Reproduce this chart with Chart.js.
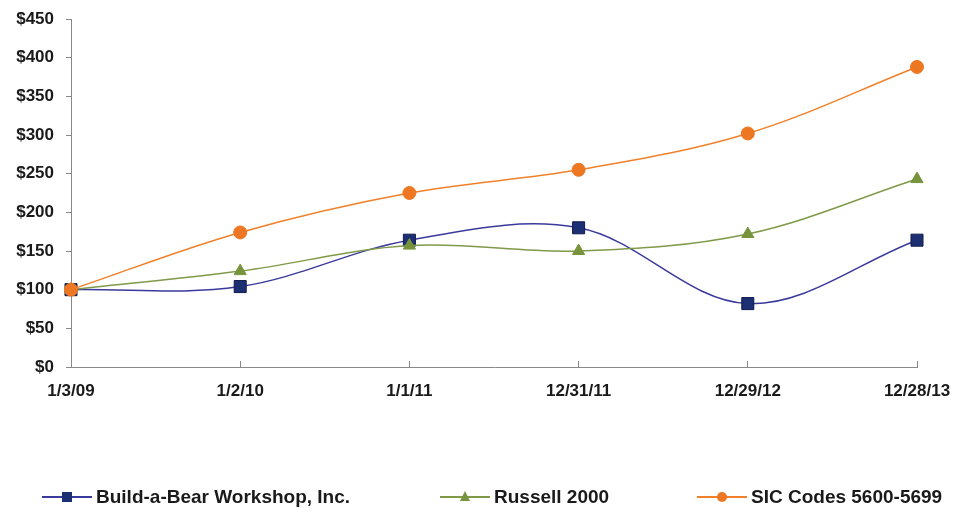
<!DOCTYPE html>
<html><head><meta charset="utf-8">
<script src="https://cdn.jsdelivr.net/npm/chart.js@4/dist/chart.umd.min.js"></script>
<style>html,body{margin:0;padding:0;background:#fff}#wrap{width:958px;height:514px}</style>
</head><body><div id="wrap"><canvas id="c"></canvas></div>
<script>
const categories = ["1/3/09","1/2/10","1/1/11","12/31/11","12/29/12","12/28/13"];
const buildABear = [100, 104, 164, 180, 82, 164];
const russell2000 = [100, 124, 157, 150, 172, 243];
const sicCodes = [100, 174, 225, 255, 302, 388];
const yTicks = [0,50,100,150,200,250,300,350,400,450];

const seriesNames = ["Build-a-Bear Workshop, Inc.","Russell 2000","SIC Codes 5600-5699"];
const lineColors = ["#3a3a9c","#7f9a48","#f0812a"];
const markerColors = ["#1c2f72","#77933c","#ed7722"];
const markerStyles = ["rect","triangle","circle"];
const dataSets = [buildABear, russell2000, sicCodes];

const AXIS_FONT = { family: 'Liberation Sans, Arial, sans-serif', size: 17, weight: 'bold' };
const LEGEND_X = [42, 440, 697];

const legendPlugin = {
  id: 'customLegend',
  afterDraw(chart) {
    const g = chart.ctx;
    const y = 497;
    g.save();
    g.font = 'bold 19px "Liberation Sans", Arial, sans-serif';
    chart.data.datasets.forEach((ds, i) => {
      const x0 = LEGEND_X[i];
      g.strokeStyle = lineColors[i]; g.lineWidth = 2;
      g.beginPath(); g.moveTo(x0, y); g.lineTo(x0 + 50, y); g.stroke();
      g.fillStyle = markerColors[i];
      const cx = x0 + 25;
      if (i === 0) { g.fillRect(cx - 5, y - 5, 10, 10); }
      else if (i === 1) { g.beginPath(); g.moveTo(cx, y - 6); g.lineTo(cx + 5, y + 4); g.lineTo(cx - 5, y + 4); g.closePath(); g.fill(); }
      else { g.beginPath(); g.arc(cx, y, 5, 0, Math.PI * 2); g.fill(); }
      g.fillStyle = '#1a1a1a';
      g.textBaseline = 'middle';
      g.textAlign = 'left';
      g.fillText(ds.label, x0 + 54, y + 1);
    });
    g.restore();
  }
};

new Chart(document.getElementById('c'), {
  type: 'line',
  data: {
    labels: categories,
    datasets: dataSets.map((d,i)=>({
      label: seriesNames[i],
      data: d,
      borderColor: lineColors[i],
      backgroundColor: markerColors[i],
      pointBackgroundColor: markerColors[i],
      pointBorderColor: i===0 ? '#101a4a' : markerColors[i],
      pointBorderWidth: 1,
      pointStyle: markerStyles[i],
      pointRadius: i===0 ? 8.5 : (i===1 ? 7 : 6.5),
      borderWidth: 1.5,
      tension: 0.35,
      fill: false,
      order: 3-i
    }))
  },
  options: {
    responsive: true,
    maintainAspectRatio: false,
    animation: false,
    layout: { padding: { top: 19, right: 41, left: 0, bottom: 0 } },
    plugins: {
      tooltip: { enabled: false },
      legend: { display: false }
    },
    scales: {
      x: {
        offset: false,
        grid: { display: true, drawOnChartArea: false, tickLength: -6, color: '#888' },
        border: { color: '#888', width: 1 },
        ticks: { color: '#1a1a1a', padding: 20, maxRotation: 0, autoSkip: false, font: AXIS_FONT },
        afterFit: (s) => { s.height = 147; s.paddingLeft = 0; s.paddingRight = 0; }
      },
      y: {
        min: 0, max: 450,
        afterBuildTicks: (s) => { s.ticks = yTicks.map(v=>({value:v})); },
        grid: { display: true, drawOnChartArea: false, tickLength: 5, color: '#888' },
        border: { color: '#888', width: 1 },
        ticks: { color: '#1a1a1a', padding: 12, autoSkip: false, callback: (v)=>'$'+v, font: AXIS_FONT },
        afterFit: (s) => { s.width = 71; s.paddingTop = 0; s.paddingBottom = 0; }
      }
    }
  },
  plugins: [legendPlugin]
});
</script>
</body></html>
